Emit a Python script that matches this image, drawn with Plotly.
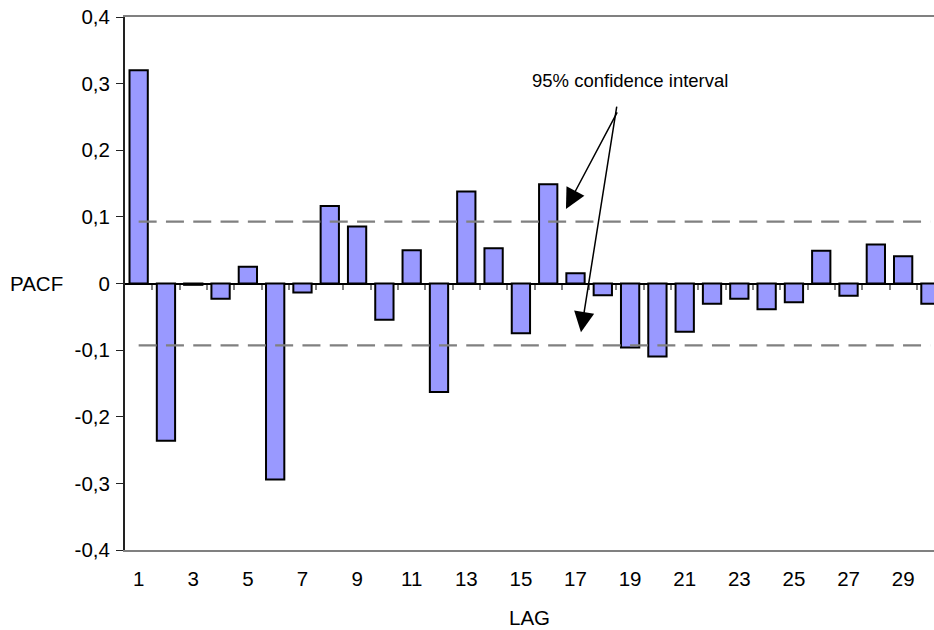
import plotly.graph_objects as go

lags = list(range(1, 31))
pacf = [0.320, -0.236, -0.002, -0.023, 0.025, -0.294, -0.0135, 0.1165, 0.0855, -0.0545,
        0.050, -0.163, 0.138, 0.053, -0.0745, 0.149, 0.0155, -0.0175, -0.096, -0.1095,
        -0.0725, -0.0305, -0.023, -0.0385, -0.028, 0.049, -0.0185, 0.0585, 0.041, -0.0305]
conf = 0.093
y_tickvals = [-0.4, -0.3, -0.2, -0.1, 0, 0.1, 0.2, 0.3, 0.4]
y_ticktext = ["-0,4", "-0,3", "-0,2", "-0,1", "0", "0,1", "0,2", "0,3", "0,4"]
x_tickvals = list(range(1, 30, 2))
x_ticktext = [str(v) for v in x_tickvals]
boundaries = [v + 0.5 for v in range(1, 30)]

FONT = "Liberation Sans, Arial, sans-serif"

fig = go.Figure()
fig.add_trace(go.Bar(
    x=lags, y=pacf,
    marker=dict(color="#9999FF", line=dict(color="black", width=2)),
    width=0.67, showlegend=False,
))
fig.add_trace(go.Scatter(
    x=lags, y=[conf] * len(lags), mode="lines",
    line=dict(color="#808080", width=2.2, dash="18px,9.3px"), showlegend=False,
))
fig.add_trace(go.Scatter(
    x=lags, y=[-conf] * len(lags), mode="lines",
    line=dict(color="#808080", width=2.2, dash="18px,9.3px"), showlegend=False,
))
# invisible trace to activate the tick axis on the zero line
fig.add_trace(go.Scatter(x=[lags[0]], y=[0], xaxis="x2", mode="markers",
                         marker=dict(opacity=0), showlegend=False, hoverinfo="skip"))

xr = [0.5, 30.13]
fig.update_layout(
    width=934, height=630,
    margin=dict(l=125, r=0, t=17, b=80),
    paper_bgcolor="white", plot_bgcolor="white",
    font=dict(family=FONT, size=20.5, color="black"),
    xaxis=dict(
        range=xr, tickvals=x_tickvals, ticktext=x_ticktext, automargin=False,
        showgrid=False, zeroline=False, ticks="",
        showline=True, linecolor="#808080", linewidth=2, mirror=True,
        ticklabelstandoff=9,
        title=dict(text="LAG", font=dict(size=20.5), standoff=22),
    ),
    xaxis2=dict(
        range=xr, overlaying="x", anchor="free", position=0.5, side="bottom",
        tickvals=boundaries, ticks="outside", ticklen=5, tickwidth=1.5,
        tickcolor="#808080", showticklabels=False, showgrid=False,
        zeroline=False, showline=False, automargin=False,
    ),
    yaxis=dict(
        range=[-0.4, 0.4], tickvals=y_tickvals, ticktext=y_ticktext, automargin=False,
        showgrid=False, zeroline=True, zerolinecolor="black", zerolinewidth=2,
        ticks="outside", ticklen=7, tickwidth=1.2, tickcolor="#222222",
        showline=True, linecolor="#222222", linewidth=2,
        ticklabelstandoff=2, ticklabeloverflow="allow",
    ),
    annotations=[
        dict(text="PACF", xref="paper", yref="y", x=-0.1097, y=0, showarrow=False,
             font=dict(size=20.5), xanchor="center", yanchor="middle"),
        dict(text="95% confidence interval", xref="x", yref="y", x=19.0, y=0.304,
             showarrow=False, font=dict(size=18.5), xanchor="center", yanchor="middle"),
        dict(text="", xref="x", yref="y", x=16.65, y=0.112, ax=52, ay=-98,
             showarrow=True, arrowhead=2, arrowsize=2.7, arrowwidth=1.5, arrowcolor="black"),
        dict(text="", xref="x", yref="y", x=17.2, y=-0.073, ax=36, ay=-227,
             showarrow=True, arrowhead=2, arrowsize=2.7, arrowwidth=1.5, arrowcolor="black"),
    ],
)
fig.write_html("out.html", config={"displayModeBar": False},
               post_script="document.body.style.margin='0';")
